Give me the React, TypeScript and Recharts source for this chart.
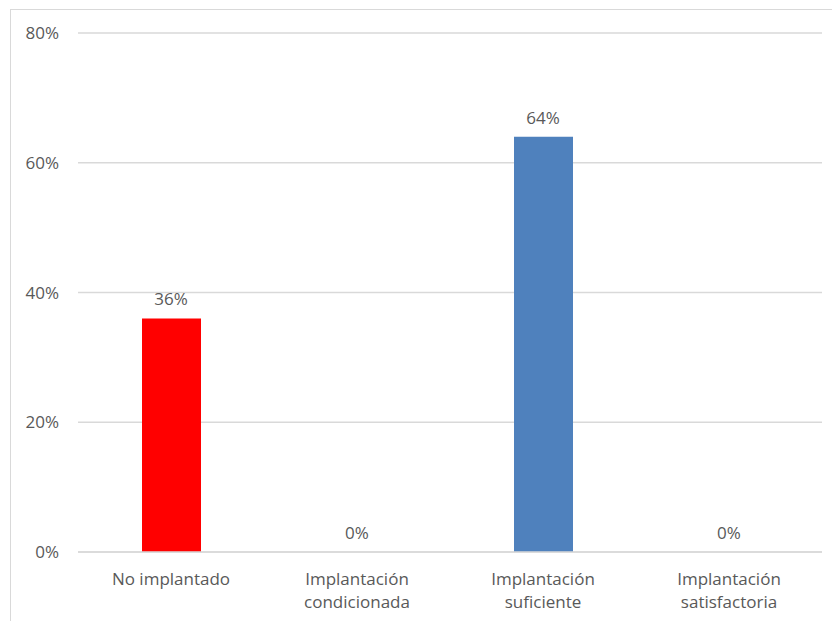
import React from "react";
import { ComposedChart, Bar, Line, XAxis, YAxis, CartesianGrid, LabelList, Cell } from "recharts";

const categories = ["No implantado", "Implantación condicionada", "Implantación suficiente", "Implantación satisfactoria"];
const categoryLines = [["No implantado"], ["Implantación", "condicionada"], ["Implantación", "suficiente"], ["Implantación", "satisfactoria"]];
const values = [0.36, 0, 0.64, 0];
const barColors = ["#FF0000", "#4F81BD", "#4F81BD", "#4F81BD"];
const yTicks = [0, 0.2, 0.4, 0.6, 0.8];

const data = categories.map((c, i) => ({ name: c, value: values[i] }));

const FONT = "'Open Sans', sans-serif";
const TEXT = "#595959";

const pct = (v: number) => `${Math.round(v * 100)}%`;

const XTick = (props: any) => {
  const { x, y, payload } = props;
  const idx = categories.indexOf(payload.value);
  const lines = idx >= 0 ? categoryLines[idx] : [payload.value];
  return (
    <text x={x} y={y} textAnchor="middle" fill={TEXT} fontFamily={FONT} fontSize={17}>
      {lines.map((l: string, i: number) => (
        <tspan key={i} x={x} y={y + 25 + i * 23}>{l}</tspan>
      ))}
    </text>
  );
};

export default function App() {
  return (
    <div style={{ position: "fixed", left: 0, top: 0, width: 832, height: 621, overflow: "hidden", background: "#fff" }}>
      <div style={{ position: "absolute", left: 10, top: 9, width: 900, height: 700, border: "1px solid #d9d9d9", boxSizing: "border-box" }} />
      <div style={{ position: "absolute", left: 0, top: 0 }}>
        <ComposedChart width={832} height={621} data={data} margin={{ top: 33, right: 10, bottom: 0, left: 0 }} barSize={59}>
          <CartesianGrid vertical={false} stroke="#d9d9d9" strokeWidth={1.3} />
          <XAxis dataKey="name" height={69} axisLine={{ stroke: "#d9d9d9", strokeWidth: 1.3 }} tickLine={false} tick={<XTick />} interval={0} />
          <YAxis width={78} domain={[0, 0.8]} ticks={yTicks} tickFormatter={pct} axisLine={false} tickLine={false} tickSize={0} tickMargin={19} tick={{ fill: TEXT, fontFamily: FONT, fontSize: 17 }} />
          <Bar dataKey="value" isAnimationActive={false}>
            {data.map((d, i) => (
              <Cell key={i} fill={barColors[i]} />
            ))}
          </Bar>
          <Line dataKey="value" stroke="none" dot={false} activeDot={false} isAnimationActive={false} legendType="none">
            <LabelList dataKey="value" position="top" offset={13} formatter={(v: any) => pct(Number(v))} fill={TEXT} fontFamily={FONT} fontSize={17} />
          </Line>
        </ComposedChart>
      </div>
    </div>
  );
}
